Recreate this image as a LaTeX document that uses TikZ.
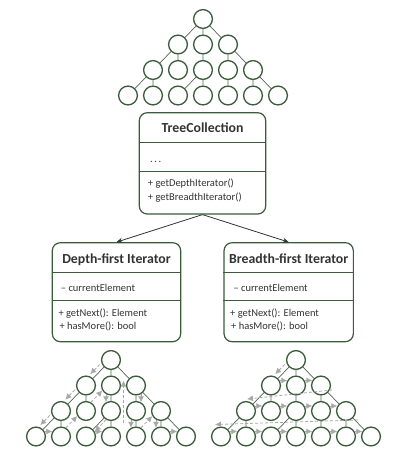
\documentclass[tikz,border=0pt]{standalone}
\usepackage{fontspec}
\setmainfont{Carlito}
\usetikzlibrary{arrows.meta,calc}
\definecolor{circcol}{HTML}{3B5B3B}
\definecolor{edgecol}{HTML}{4F654F}
\definecolor{boxcol}{HTML}{3B5B3B}
\definecolor{travgray}{HTML}{A8A8A8}
\definecolor{txtcol}{HTML}{333333}
\newcommand\mytree[3]{%
\node[tnode] (#1R) at (#2,#3) {};
\node[tnode] (#1A) at ({#2-25},{#3+25.5}) {};
\node[tnode] (#1B) at (#2,{#3+25.5}) {};
\node[tnode] (#1C) at ({#2+25},{#3+25.5}) {};
\node[tnode] (#1D) at ({#2-50},{#3+51}) {};
\node[tnode] (#1E) at ({#2-25},{#3+51}) {};
\node[tnode] (#1F) at (#2,{#3+51}) {};
\node[tnode] (#1G) at ({#2+25},{#3+51}) {};
\node[tnode] (#1H) at ({#2+50},{#3+51}) {};
\node[tnode] (#1L1) at ({#2-75},{#3+76.5}) {};
\node[tnode] (#1L2) at ({#2-50},{#3+76.5}) {};
\node[tnode] (#1L3) at ({#2-25},{#3+76.5}) {};
\node[tnode] (#1L4) at (#2,{#3+76.5}) {};
\node[tnode] (#1L5) at ({#2+25},{#3+76.5}) {};
\node[tnode] (#1L6) at ({#2+50},{#3+76.5}) {};
\node[tnode] (#1L7) at ({#2+75},{#3+76.5}) {};
\draw[tedge] (#1R)--(#1A) (#1R)--(#1B) (#1R)--(#1C) (#1A)--(#1D) (#1A)--(#1E)
 (#1B)--(#1F) (#1C)--(#1G) (#1C)--(#1H) (#1D)--(#1L1) (#1D)--(#1L2) (#1F)--(#1L3)
 (#1F)--(#1L4) (#1G)--(#1L5) (#1H)--(#1L6) (#1H)--(#1L7);
}
\begin{document}
\begin{tikzpicture}[x=1pt,y=-1pt,
  tnode/.style={circle,draw=circcol,fill=white,line width=1.3pt,minimum size=18.8pt,inner sep=0pt},
  tedge/.style={draw=edgecol,line width=0.7pt},
  umlbox/.style={draw=boxcol,line width=1.2pt,rounded corners=8pt,fill=white,inner sep=0pt},
  sepline/.style={draw=boxcol,line width=1pt},
  titletext/.style={font=\bfseries\fontsize{13.8}{16}\selectfont,text=txtcol,inner sep=0pt,anchor=base},
  bodytext/.style={font=\fontsize{10.5}{12}\selectfont,text=txtcol,inner sep=0pt,anchor=base west},
  conn/.style={draw=txtcol,line width=0.8pt,-{Stealth[length=6pt,width=5pt]}},
  trav/.style={draw=travgray,line width=0.8pt,dash pattern=on 3pt off 2pt,-{Latex[length=6pt,width=6pt]}}
]
\useasboundingbox (0,0) rectangle (401,458);

% top tree
\mytree{t}{203}{19}

% TreeCollection box
\node[umlbox,minimum width=126.4pt,minimum height=101.3pt] (TC) at (202.5,163.35) {};
\draw[sepline] ($(TC.north west)+(0,30.6)$) -- ($(TC.north east)+(0,30.6)$);
\draw[sepline] ($(TC.north west)+(0,59)$) -- ($(TC.north east)+(0,59)$);
\node[titletext] (TCt) at ($(TC.north)+(0,20.8)$) {TreeCollection};
\node[bodytext] (TCa) at (150,162) {.\kern1.6pt.\kern1.6pt.};
\node[bodytext] (TCm1) at (147.7,186.8) {+ getDepthIterator()};
\node[bodytext] (TCm2) at (147.7,200.8) {+ getBreadthIterator()};

% Depth-first box
\node[umlbox,minimum width=128.4pt,minimum height=99pt] (DF) at (116.5,292.2) {};
\draw[sepline] ($(DF.north west)+(0,30)$) -- ($(DF.north east)+(0,30)$);
\draw[sepline] ($(DF.north west)+(0,58.3)$) -- ($(DF.north east)+(0,58.3)$);
\node[titletext] (DFt) at ($(DF.north)+(0,21)$) {Depth-first Iterator};
\node[bodytext] (DFa) at (60.7,291.2) {– currentElement};
\node[bodytext] (DFm1) at (58.3,316.8) {+ getNext(): Element};
\node[bodytext] (DFm2) at (59.3,329.5) {+ hasMore(): bool};

% Breadth-first box
\node[umlbox,minimum width=129.3pt,minimum height=99pt] (BF) at (288.7,292.2) {};
\draw[sepline] ($(BF.north west)+(0,30)$) -- ($(BF.north east)+(0,30)$);
\draw[sepline] ($(BF.north west)+(0,58.3)$) -- ($(BF.north east)+(0,58.3)$);
\node[titletext] (BFt) at ($(BF.north)+(0,21)$) {Breadth-first Iterator};
\node[bodytext] (BFa) at (233.3,291.2) {– currentElement};
\node[bodytext] (BFm1) at (230,316.8) {+ getNext(): Element};
\node[bodytext] (BFm2) at (231,329.5) {+ hasMore(): bool};

% connectors
\draw[conn] (TC.south) -- (DF.north);
\draw[conn] (TC.south) -- (BF.north);

% bottom trees
\mytree{l}{111}{360}
\mytree{r}{296}{360}

% depth-first traversal
\draw[trav] ($(lR)!11pt!(lA)+(-3.5,-3.5)$) -- ($(lA)!11pt!(lR)+(-3.5,-3.5)$);
\draw[trav] ($(lA)!11pt!(lD)+(-3.5,-3.5)$) -- ($(lD)!11pt!(lA)+(-3.5,-3.5)$);
\draw[trav] ($(lD)!11pt!(lL1)+(-3.5,-3.5)$) -- ($(lL1)!11pt!(lD)+(-3.5,-3.5)$);
\draw[trav] (lL1.30) -- (lL2.150);
\draw[trav] (lL2.60) -- (lE.210);
\draw[trav] (lE.60) -- (lB.210);
\draw[trav] (lB.240) -- (lF.120);
\draw[trav] (lF.240) -- (lL3.30);
\draw[trav] (lL3.30) -- (lL4.150);
\draw[trav] ($(lL4)+(12.5,-14)$) -- ($(lC)+(-12.5,-5)$);
\draw[trav] (lC.300) -- (lG.60);
\draw[trav] (lG.240) -- (lL5.120);
\draw[trav] (lL5.60) -- (lH.210);
\draw[trav] (lH.240) -- (lL6.120);
\draw[trav] (lL6.30) -- (lL7.150);

% breadth-first traversal
\draw[trav] ($(rR)!11pt!(rA)+(-3.5,-3.5)$) -- ($(rA)!11pt!(rR)+(-3.5,-3.5)$);
\draw[trav] (rA.30) -- (rB.150);
\draw[trav] (rB.30) -- (rC.150);
\draw[trav] ($(rC)+(11,4.5)$) -- ($(rD)+(1,-12)$);
\draw[trav] (rD.30) -- (rE.150);
\draw[trav] (rE.30) -- (rF.150);
\draw[trav] (rF.30) -- (rG.150);
\draw[trav] (rG.30) -- (rH.150);
\draw[trav] ($(rH)+(12,9)$) -- ($(rL1)+(-6,-12)$);
\draw[trav] (rL1.30) -- (rL2.150);
\draw[trav] (rL2.30) -- (rL3.150);
\draw[trav] (rL3.30) -- (rL4.150);
\draw[trav] (rL4.30) -- (rL5.150);
\draw[trav] (rL5.30) -- (rL6.150);
\draw[trav] (rL6.30) -- (rL7.150);
\end{tikzpicture}
\end{document}
